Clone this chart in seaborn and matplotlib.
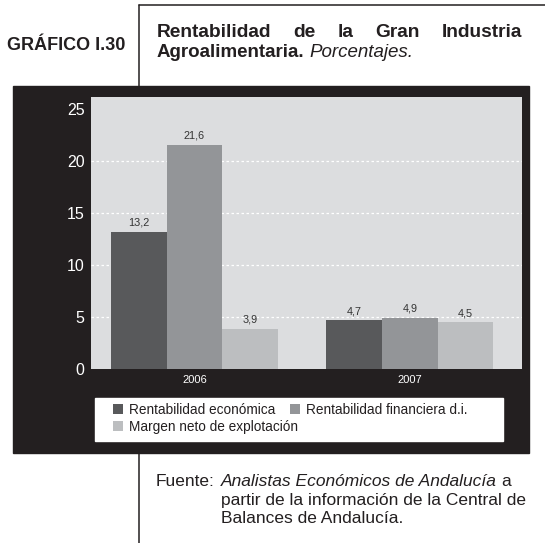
import numpy as np
import pandas as pd
import matplotlib
matplotlib.use("Agg")
import matplotlib.pyplot as plt
import matplotlib.font_manager as fm
from matplotlib.patches import Rectangle
from matplotlib.lines import Line2D
import seaborn as sns

# Data
years = ["2006", "2007"]
series = ["Rentabilidad económica", "Rentabilidad financiera d.i.", "Margen neto de explotación"]
rent_economica = [13.2, 4.7]
rent_financiera = [21.6, 4.9]
margen_neto = [3.9, 4.5]
colors = ["#58595b", "#939598", "#bcbec0"]

df = pd.DataFrame({
    "year": years * 3,
    "serie": np.repeat(series, 2),
    "value": rent_economica + rent_financiera + margen_neto,
})

sns.set_theme(style="white")
plt.rcParams["font.family"] = ["Liberation Sans", "DejaVu Sans"]

names = {f.name for f in fm.fontManager.ttflist}
narrow = "Liberation Sans Narrow" in names
ink = "#231f20"

W, H = 545, 543
fig = plt.figure(figsize=(W / 100, H / 100), dpi=100)


def fx(px):
    return px / W


def fy(py):
    return 1 - py / H


# black panel behind the chart
fig.patches.append(Rectangle((fx(13), fy(453)), fx(529) - fx(13), fy(86) - fy(453),
                             transform=fig.transFigure, color=ink, zorder=-1))
# white legend box
fig.patches.append(Rectangle((fx(95), fy(441)), fx(503) - fx(95), fy(398) - fy(441),
                             transform=fig.transFigure, color="white", zorder=-0.5))

# frame lines
for xs, ys in [([139, 139], [5, 86]), ([139, 545], [5, 5]), ([139, 139], [453, 543])]:
    fig.lines.append(Line2D([fx(v) for v in xs], [fy(v) for v in ys],
                            transform=fig.transFigure, color=ink, lw=1.1))

ax = fig.add_axes([fx(91), fy(369), fx(522) - fx(91), fy(97) - fy(369)])
sns.barplot(data=df, x="year", y="value", hue="serie", palette=colors, width=0.775,
            saturation=1, linewidth=0, ax=ax)

ax.set_facecolor("#dcdddf")
ax.set_ylim(0, 26.2)
ax.set_xlim(-0.48, 1.52)
ax.set_yticks(range(0, 26, 5))
ax.set_xlabel("")
ax.set_ylabel("")
for s in ax.spines.values():
    s.set_visible(False)
ax.tick_params(axis="y", colors="white", labelsize=11.5, length=0, pad=4.5)
ax.tick_params(axis="x", colors="white", labelsize=8, length=0, pad=4.5)

for y in range(5, 25, 5):
    ax.axhline(y, color="white", lw=0.9, ls=(0, (2, 2)), zorder=0.5)

for cont in ax.containers:
    ax.bar_label(cont, labels=[f"{v:.1f}".replace(".", ",") for v in cont.datavalues],
                 padding=3, fontsize=7.8, color="#333333")

# legend: two rows like the original
h, l = ax.get_legend_handles_labels()
ax.get_legend().remove()
leg_kw = dict(loc="upper left", frameon=False, fontsize=9.8, handlelength=0.7, handleheight=0.7,
              handletextpad=0.45, columnspacing=1.1, borderpad=0, borderaxespad=0,
              labelcolor=ink)
fig.legend(h[:2], l[:2], ncol=2, bbox_to_anchor=(fx(113), fy(403)), **leg_kw)
fig.legend(h[2:], l[2:], ncol=1, bbox_to_anchor=(fx(113), fy(420)), **leg_kw)

# titles
fam_narrow = ["Liberation Sans Narrow", "Liberation Sans"] if narrow else ["Liberation Sans"]
fig.text(fx(7), fy(45), "GRÁFICO I.30", fontsize=15 if narrow else 13, family=fam_narrow,
         weight="bold", va="center", ha="left", color=ink)

r = fig.canvas.get_renderer()
words = "Rentabilidad de la Gran Industria".split()
texts = [fig.text(0, fy(37), w, fontsize=13.8, weight="bold", va="baseline", color=ink) for w in words]
widths = [t.get_window_extent(r).width for t in texts]
gap = (522 - 157 - sum(widths)) / (len(words) - 1)
x = 157
for t, w in zip(texts, widths):
    t.set_x(fx(x))
    x += w + gap

t = fig.text(fx(157), fy(57), "Agroalimentaria.", fontsize=13.5, weight="bold", va="baseline", color=ink)
ext = t.get_window_extent(r)
fig.text(fx(ext.x1 + 5), fy(57), "Porcentajes.", fontsize=13.5, style="italic", va="baseline", color=ink)

# source note
fs = 12.5
fig.text(fx(156), fy(486), "Fuente:", fontsize=fs, va="baseline", color=ink)
t = fig.text(fx(221), fy(486), "Analistas Económicos de Andalucía", fontsize=fs, style="italic",
             va="baseline", color=ink)
ext = t.get_window_extent(r)
fig.text(fx(ext.x1 + 4), fy(486), "a", fontsize=fs, va="baseline", color=ink)
fig.text(fx(221), fy(505), "partir de la información de la Central de", fontsize=fs, va="baseline", color=ink)
fig.text(fx(221), fy(523), "Balances de Andalucía.", fontsize=fs, va="baseline", color=ink)

fig.savefig("out.png", dpi=100)
